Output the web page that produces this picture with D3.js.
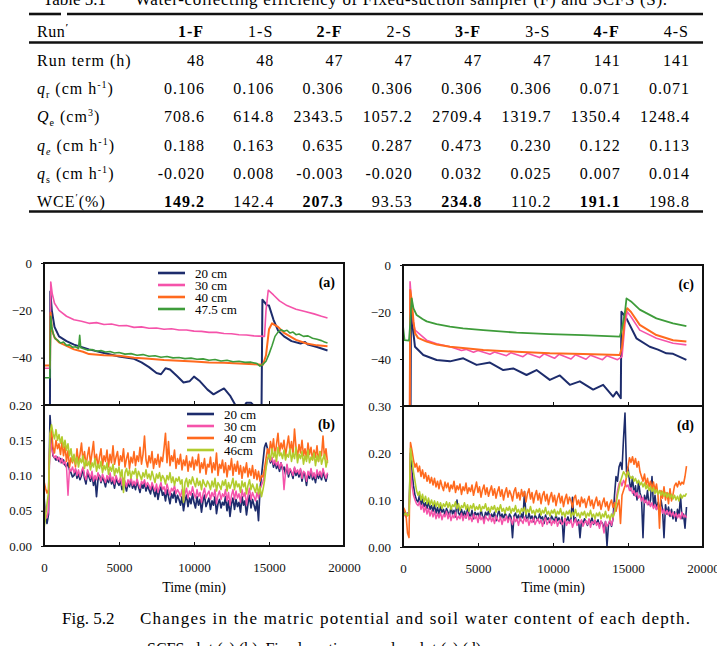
<!DOCTYPE html>
<html><head><meta charset="utf-8">
<script src="https://cdn.jsdelivr.net/npm/d3@7"></script>
<style>body{margin:0;background:#fff}svg{display:block}</style>
</head><body>
<svg id="c" width="717" height="646"></svg>
<script>
// ---------------- TABLE DATA ----------------
const tableTitleNo = "Table 5.1";
const tableTitle = "Water-collecting efficiency of Fixed-suction sampler (F) and SCFS (S).";
const tableRuns = ["1-F","1-S","2-F","2-S","3-F","3-S","4-F","4-S"];
const runTerm = ["48","48","47","47","47","47","141","141"];
const qrVals  = ["0.106","0.106","0.306","0.306","0.306","0.306","0.071","0.071"];
const QeVals  = ["708.6","614.8","2343.5","1057.2","2709.4","1319.7","1350.4","1248.4"];
const qeVals  = ["0.188","0.163","0.635","0.287","0.473","0.230","0.122","0.113"];
const qsVals  = ["-0.020","0.008","-0.003","-0.020","0.032","0.025","0.007","0.014"];
const wceVals = ["149.2","142.4","207.3","93.53","234.8","110.2","191.1","198.8"];

// ---------------- CHART DATA ----------------
const depthsA = ["20 cm","30 cm","40 cm","47.5 cm"];
const depthsB = ["20 cm","30 cm","40 cm","46cm"];
const xTicks = [0,5000,10000,15000,20000];
const potTicks = [0,-20,-40];
const wcTicksB = [0,0.05,0.10,0.15,0.20];
const wcTicksD = [0,0.10,0.20,0.30];

// (a) matric potential, SCFS  [time (min), potential]
const a20 = [[0,-75],[390,-75],[420,-12],[520,-20],[700,-27],[1000,-31],[1500,-33],[2000,-34.5],[3000,-36.5],[4000,-38],[5000,-39.5],[6000,-40.5],[6500,-42],[7000,-44],[7500,-46.5],[7800,-47],[8100,-44.5],[8400,-45],[8900,-48],[9300,-50.5],[9700,-50],[10000,-48],[10400,-50],[10900,-53.5],[11300,-55.5],[11700,-54],[12000,-53],[12400,-56],[12800,-60.5],[13200,-62],[13500,-59],[13800,-59],[14100,-61],[14500,-63],[14560,-15.5],[14700,-16.5],[14850,-17.8],[15000,-18],[15300,-24],[15600,-28.5],[16000,-31],[16500,-33],[17100,-34],[17400,-33.4],[17600,-34.5],[18200,-35.5],[18900,-37]];
const a30 = [[0,-44.5],[400,-44.5],[450,-8],[550,-13],[700,-17],[1000,-20],[1500,-22.5],[2000,-24],[2500,-24.6],[3000,-25.5],[3500,-25.2],[4000,-26],[4500,-25.8],[5000,-26.5],[5500,-26.4],[6000,-27.2],[6500,-27],[7000,-27.6],[7500,-27.5],[8000,-28],[8500,-27.8],[9000,-28.3],[9500,-28.3],[10000,-28.8],[10500,-28.9],[11000,-29.3],[11500,-29.3],[12000,-29.8],[12500,-29.9],[13000,-30.3],[13500,-30.4],[14000,-30.8],[14700,-31],[14800,-20],[14950,-11.5],[15300,-13.5],[15700,-16],[16200,-18],[16800,-19.5],[17400,-20.5],[18000,-21.5],[18500,-22.5],[18900,-23.2]];
const a40 = [[0,-43.3],[400,-43.3],[440,-21],[520,-28],[700,-31.5],[1000,-33.5],[1500,-35],[2000,-36.5],[2600,-37.5],[3000,-38.5],[4000,-39],[5000,-39.2],[6000,-40],[7000,-40.5],[8000,-41],[9000,-41.3],[10000,-41.6],[11000,-42],[12000,-42.2],[13000,-42.5],[14000,-42.8],[14600,-43],[14800,-39],[15000,-28],[15200,-25.5],[15600,-27],[16000,-29.5],[16800,-32.5],[17500,-34],[18200,-34.8],[18900,-35.2]];
const a47 = [[0,-48.5],[390,-48.5],[440,-22.5],[520,-27],[620,-30],[750,-32],[900,-32.6],[1100,-33.8],[1300,-33.4],[1500,-34.8],[1700,-34.6],[1900,-35.6],[2100,-35.4],[2300,-36.2],[2380,-30.6],[2450,-35.8],[2700,-36.3],[2900,-36.8],[3200,-36.6],[3500,-37.3],[3800,-37],[4100,-37.6],[4400,-37.4],[4700,-38],[5000,-37.8],[5400,-38.5],[5800,-38.3],[6200,-39],[6600,-38.7],[7000,-39.4],[7400,-39.2],[7800,-39.8],[8200,-39.5],[8600,-40.1],[9000,-39.9],[9400,-40.4],[9800,-40.2],[10200,-40.7],[10600,-40.5],[11000,-41.1],[11400,-40.8],[11800,-41.4],[12200,-41.1],[12600,-41.7],[13000,-41.5],[13400,-42],[13800,-41.9],[14200,-42.5],[14400,-43.6],[14600,-42.8],[14800,-41.5],[15000,-38.5],[15200,-35],[15400,-31],[15600,-29.2],[15800,-28.2],[16000,-28.8],[16200,-28.4],[16400,-29.6],[16600,-29.2],[16800,-30.3],[17000,-30],[17300,-31],[17600,-30.8],[17900,-31.8],[18200,-32.2],[18500,-32.8],[18700,-33.4],[18900,-33.8]];

// (c) matric potential, fixed-suction sampler
const c20 = [[0,-70],[500,-70],[533,-17.7],[620,-25],[800,-34.8],[1354,-38.3],[2242,-40.4],[3130,-41],[4018,-39.7],[4906,-42.5],[5794,-41.5],[6682,-44.7],[7348,-44],[8236,-46.8],[8902,-44.7],[9790,-48.9],[10456,-47],[11122,-51],[11788,-49.5],[12676,-53],[13342,-51],[14008,-56],[14230,-54],[14520,-56.7],[14563,-19.9],[14700,-21],[14896,-22.7],[15562,-31.2],[16450,-34.8],[17000,-36],[17560,-37.6],[18004,-37.8],[18892,-40.4]];
const c30 = [[0,-70],[440,-70],[470,-7.1],[550,-14],[700,-25],[800,-27.7],[1576,-32],[2242,-33.5],[3130,-34.8],[3500,-35.5],[3900,-36.4],[4200,-35.9],[4700,-37.1],[5000,-36.4],[5800,-38],[6100,-37],[6900,-38.6],[7200,-37.3],[8000,-39],[8300,-37.6],[9100,-39.4],[9400,-37.8],[10100,-39.7],[10400,-38],[11200,-40],[11500,-38.2],[12200,-40.1],[12500,-38.4],[13300,-40.3],[13600,-38.6],[14300,-40.3],[14600,-39],[14800,-25],[14950,-19.9],[15200,-22],[15784,-27.7],[16894,-31.2],[18004,-33.3],[18892,-34]];
const c40 = [[0,-70],[450,-70],[480,-10.6],[560,-14],[700,-24],[800,-29],[1000,-31],[1576,-32.6],[2242,-33.8],[3130,-34.8],[5350,-36.2],[7570,-36.9],[9790,-37.6],[12010,-37.9],[14452,-38.3],[14600,-35],[14800,-21],[14950,-18.4],[15200,-20],[15784,-25.5],[16894,-29.8],[18004,-32],[18892,-32.6]];
const c47 = [[0,-26],[100,-32],[400,-32.2],[480,-25],[577,-14.2],[700,-18.5],[910,-21.3],[1300,-23],[1576,-24],[2242,-25.2],[3130,-26.2],[4000,-27],[5350,-27.7],[7570,-28.8],[9790,-29.4],[12010,-29.8],[14452,-30.5],[14600,-27],[14800,-20],[14900,-14.2],[15200,-15.5],[15784,-19],[16894,-22.7],[18004,-24.8],[18892,-26]];

// (b) soil water content, SCFS (sampled every 100 min from 0)
const b20 = [0.070,0.040,0.032,0.045,0.185,0.150,0.128,0.125,0.122,0.126,
0.120,0.124,0.118,0.122,0.115,0.112,0.118,0.108,0.104,0.098,
0.100,0.108,0.096,0.102,0.094,0.100,0.110,0.096,0.088,0.104,
0.098,0.092,0.102,0.086,0.096,0.070,0.094,0.100,0.090,0.098,
0.092,0.084,0.096,0.090,0.100,0.088,0.094,0.082,0.096,0.090,
0.086,0.094,0.080,0.092,0.088,0.078,0.090,0.084,0.094,0.082,
0.088,0.080,0.092,0.084,0.076,0.088,0.082,0.090,0.078,0.086,
0.080,0.074,0.086,0.078,0.070,0.082,0.066,0.078,0.084,0.072,
0.076,0.064,0.080,0.070,0.060,0.074,0.068,0.078,0.062,0.072,
0.066,0.058,0.070,0.050,0.064,0.072,0.056,0.068,0.060,0.074,
0.062,0.054,0.070,0.058,0.066,0.048,0.064,0.072,0.056,0.062,
0.068,0.052,0.064,0.058,0.070,0.046,0.060,0.066,0.054,0.062,
0.058,0.070,0.050,0.064,0.042,0.060,0.068,0.052,0.066,0.056,
0.062,0.048,0.070,0.058,0.064,0.044,0.060,0.072,0.054,0.066,
0.058,0.050,0.064,0.036,0.080,0.100,0.120,0.140,0.146,0.138,
0.126,0.118,0.124,0.112,0.120,0.110,0.116,0.106,0.118,0.108,
0.112,0.102,0.114,0.098,0.108,0.104,0.096,0.110,0.100,0.106,
0.098,0.108,0.092,0.104,0.100,0.086,0.102,0.096,0.108,0.094,
0.100,0.090,0.104,0.096,0.102,0.094,0.106,0.098,0.092,0.102];
const b30 = [0.060,0.045,0.040,0.050,0.160,0.140,0.130,0.125,0.128,0.122,
0.126,0.118,0.124,0.116,0.120,0.112,0.072,0.110,0.106,0.112,
0.104,0.110,0.100,0.108,0.098,0.106,0.112,0.100,0.094,0.108,
0.102,0.096,0.106,0.092,0.100,0.094,0.104,0.098,0.092,0.102,
0.096,0.090,0.100,0.094,0.104,0.092,0.098,0.088,0.100,0.094,
0.090,0.098,0.086,0.096,0.092,0.084,0.094,0.088,0.098,0.086,
0.092,0.086,0.096,0.088,0.082,0.092,0.088,0.094,0.084,0.090,
0.086,0.080,0.090,0.084,0.078,0.088,0.076,0.084,0.090,0.080,
0.084,0.074,0.088,0.080,0.072,0.082,0.078,0.086,0.074,0.080,
0.076,0.070,0.080,0.064,0.074,0.082,0.068,0.078,0.072,0.084,
0.074,0.068,0.080,0.070,0.076,0.062,0.074,0.082,0.068,0.074,
0.078,0.066,0.076,0.070,0.080,0.060,0.072,0.078,0.066,0.074,
0.070,0.080,0.064,0.076,0.058,0.072,0.080,0.066,0.078,0.068,
0.074,0.062,0.080,0.070,0.076,0.058,0.072,0.082,0.066,0.076,
0.070,0.064,0.076,0.068,0.080,0.086,0.092,0.100,0.112,0.124,
0.128,0.120,0.126,0.116,0.122,0.114,0.120,0.110,0.118,0.112,
0.080,0.104,0.116,0.102,0.110,0.106,0.100,0.112,0.104,0.108,
0.102,0.110,0.096,0.106,0.104,0.092,0.106,0.100,0.110,0.098,
0.104,0.096,0.108,0.100,0.106,0.098,0.110,0.102,0.096,0.104];
const b40 = [0.092,0.082,0.075,0.080,0.150,0.165,0.140,0.132,0.150,0.138,
0.145,0.130,0.148,0.128,0.142,0.120,0.135,0.112,0.125,0.118,
0.128,0.112,0.138,0.118,0.130,0.146,0.120,0.134,0.114,0.128,
0.140,0.116,0.132,0.148,0.118,0.130,0.112,0.126,0.138,0.114,
0.128,0.120,0.136,0.112,0.130,0.118,0.142,0.116,0.126,0.134,
0.114,0.128,0.120,0.138,0.112,0.124,0.132,0.110,0.126,0.118,
0.134,0.114,0.128,0.120,0.140,0.116,0.130,0.156,0.122,0.112,
0.128,0.118,0.134,0.110,0.124,0.116,0.130,0.112,0.126,0.120,
0.138,0.160,0.118,0.148,0.114,0.128,0.120,0.136,0.110,0.124,
0.116,0.130,0.108,0.122,0.114,0.128,0.106,0.120,0.112,0.126,
0.108,0.122,0.114,0.130,0.104,0.118,0.110,0.124,0.102,0.116,
0.112,0.126,0.104,0.118,0.108,0.132,0.100,0.116,0.110,0.122,
0.104,0.118,0.098,0.114,0.108,0.124,0.100,0.116,0.106,0.120,
0.102,0.114,0.096,0.112,0.104,0.118,0.098,0.110,0.100,0.114,
0.096,0.108,0.094,0.106,0.092,0.100,0.098,0.110,0.124,0.138,
0.130,0.148,0.136,0.152,0.128,0.144,0.160,0.132,0.146,0.138,
0.150,0.128,0.142,0.156,0.134,0.148,0.130,0.166,0.140,0.126,
0.144,0.132,0.150,0.128,0.138,0.124,0.146,0.130,0.140,0.122,
0.136,0.126,0.142,0.120,0.134,0.128,0.156,0.124,0.138,0.118];
const b46 = [0.025,0.040,0.060,0.075,0.160,0.172,0.160,0.152,0.165,0.150,
0.158,0.146,0.155,0.140,0.150,0.136,0.145,0.128,0.138,0.120,
0.130,0.116,0.126,0.112,0.124,0.118,0.128,0.110,0.122,0.114,
0.120,0.108,0.118,0.112,0.124,0.106,0.116,0.110,0.120,0.104,
0.114,0.108,0.118,0.102,0.112,0.106,0.116,0.100,0.110,0.104,
0.112,0.098,0.108,0.076,0.104,0.110,0.100,0.108,0.096,0.106,
0.102,0.110,0.096,0.106,0.100,0.094,0.104,0.098,0.108,0.096,
0.102,0.094,0.106,0.098,0.090,0.102,0.096,0.104,0.092,0.100,
0.096,0.088,0.100,0.094,0.104,0.090,0.098,0.086,0.096,0.092,
0.098,0.088,0.094,0.062,0.090,0.096,0.084,0.094,0.088,0.098,
0.090,0.084,0.096,0.086,0.092,0.080,0.094,0.088,0.084,0.092,
0.088,0.080,0.092,0.084,0.096,0.078,0.090,0.086,0.080,0.092,
0.086,0.094,0.078,0.090,0.082,0.088,0.096,0.080,0.092,0.084,
0.088,0.076,0.092,0.084,0.090,0.074,0.086,0.094,0.080,0.088,
0.082,0.076,0.088,0.074,0.084,0.070,0.080,0.092,0.110,0.124,
0.130,0.122,0.138,0.126,0.134,0.120,0.140,0.128,0.132,0.124,
0.136,0.122,0.130,0.126,0.138,0.120,0.132,0.124,0.140,0.118,
0.130,0.124,0.134,0.116,0.128,0.120,0.136,0.118,0.126,0.122,
0.132,0.114,0.128,0.120,0.134,0.116,0.124,0.130,0.112,0.122];

// (d) soil water content, fixed-suction sampler (every 100 min from 0)
const d20 = [0.080,0.070,0.065,0.072,0.068,0.200,0.160,0.130,0.110,0.100,
0.096,0.110,0.090,0.102,0.086,0.094,0.082,0.098,0.080,0.088,
0.076,0.090,0.072,0.084,0.070,0.086,0.074,0.080,0.068,0.082,
0.074,0.066,0.086,0.070,0.078,0.064,0.100,0.072,0.068,0.080,
0.066,0.076,0.062,0.082,0.070,0.064,0.078,0.060,0.074,0.068,
0.072,0.062,0.080,0.066,0.058,0.074,0.068,0.076,0.060,0.070,
0.064,0.074,0.056,0.068,0.078,0.062,0.070,0.060,0.072,0.066,
0.058,0.070,0.064,0.020,0.066,0.072,0.060,0.068,0.056,0.070,
0.062,0.118,0.064,0.058,0.072,0.060,0.066,0.054,0.068,0.062,
0.056,0.070,0.060,0.064,0.050,0.068,0.058,0.062,0.052,0.066,
0.060,0.054,0.068,0.056,0.062,0.050,0.064,0.010,0.060,0.056,
0.064,0.052,0.060,0.106,0.054,0.062,0.048,0.058,0.020,0.056,
0.050,0.060,0.054,0.046,0.058,0.052,0.062,0.048,0.056,0.050,
0.058,0.044,0.054,0.050,0.040,0.054,0.002,0.048,0.056,0.044,
0.060,0.110,0.150,0.140,0.170,0.180,0.165,0.230,0.285,0.160,
0.170,0.140,0.120,0.150,0.110,0.130,0.100,0.140,0.115,0.105,
0.020,0.110,0.095,0.120,0.090,0.100,0.150,0.085,0.110,0.080,
0.095,0.075,0.100,0.080,0.020,0.090,0.070,0.085,0.065,0.080,
0.060,0.075,0.055,0.080,0.065,0.110,0.060,0.070,0.040,0.085];
const d30 = [0.070,0.068,0.064,0.072,0.070,0.170,0.130,0.110,0.100,0.092,
0.088,0.096,0.080,0.090,0.074,0.086,0.070,0.082,0.066,0.078,
0.064,0.076,0.060,0.072,0.062,0.074,0.058,0.070,0.064,0.076,
0.060,0.072,0.056,0.068,0.062,0.074,0.058,0.066,0.060,0.072,
0.056,0.068,0.062,0.074,0.058,0.064,0.054,0.070,0.060,0.066,
0.052,0.068,0.058,0.064,0.050,0.066,0.060,0.056,0.068,0.054,
0.062,0.050,0.066,0.058,0.054,0.064,0.048,0.060,0.056,0.066,
0.052,0.062,0.058,0.048,0.064,0.054,0.060,0.046,0.062,0.056,
0.050,0.064,0.054,0.060,0.046,0.058,0.052,0.062,0.048,0.056,
0.060,0.050,0.058,0.044,0.056,0.062,0.048,0.054,0.060,0.046,
0.056,0.050,0.060,0.044,0.054,0.058,0.048,0.052,0.062,0.046,
0.054,0.050,0.058,0.042,0.052,0.060,0.046,0.054,0.050,0.058,
0.044,0.052,0.056,0.048,0.060,0.042,0.054,0.050,0.058,0.046,
0.052,0.040,0.056,0.048,0.030,0.054,0.044,0.050,0.058,0.046,
0.060,0.080,0.100,0.120,0.135,0.140,0.130,0.142,0.136,0.128,
0.132,0.120,0.126,0.114,0.120,0.108,0.116,0.104,0.110,0.098,
0.106,0.094,0.100,0.090,0.098,0.086,0.094,0.082,0.090,0.080,
0.088,0.076,0.084,0.072,0.080,0.070,0.078,0.068,0.076,0.066,
0.074,0.064,0.072,0.062,0.070,0.060,0.074,0.064,0.068,0.062];
const d40 = [0.085,0.080,0.070,0.030,0.020,0.222,0.205,0.185,0.170,0.178,
0.160,0.172,0.150,0.164,0.146,0.158,0.140,0.152,0.136,0.148,
0.132,0.146,0.128,0.140,0.124,0.142,0.130,0.120,0.138,0.126,
0.136,0.118,0.132,0.124,0.140,0.116,0.130,0.122,0.134,0.112,
0.128,0.120,0.136,0.114,0.126,0.118,0.132,0.110,0.124,0.138,
0.116,0.128,0.106,0.122,0.132,0.112,0.126,0.108,0.120,0.130,
0.110,0.124,0.104,0.118,0.128,0.108,0.122,0.100,0.116,0.126,
0.106,0.120,0.112,0.098,0.118,0.126,0.104,0.116,0.100,0.122,
0.108,0.118,0.096,0.114,0.124,0.102,0.116,0.094,0.110,0.120,
0.100,0.114,0.092,0.110,0.118,0.098,0.112,0.090,0.106,0.116,
0.096,0.110,0.088,0.104,0.114,0.094,0.108,0.086,0.102,0.112,
0.092,0.106,0.098,0.084,0.104,0.110,0.090,0.100,0.086,0.106,
0.094,0.102,0.084,0.098,0.108,0.088,0.100,0.082,0.096,0.106,
0.088,0.098,0.080,0.094,0.104,0.086,0.096,0.078,0.092,0.100,
0.084,0.094,0.076,0.090,0.100,0.050,0.110,0.120,0.130,0.150,
0.170,0.190,0.180,0.192,0.176,0.188,0.170,0.182,0.160,0.150,
0.140,0.155,0.132,0.146,0.128,0.140,0.124,0.138,0.120,0.134,
0.110,0.040,0.120,0.104,0.128,0.100,0.116,0.092,0.124,0.098,
0.112,0.130,0.136,0.128,0.140,0.132,0.138,0.134,0.150,0.172];
const d46 = [0.075,0.068,0.072,0.066,0.070,0.210,0.185,0.160,0.140,0.120,
0.110,0.118,0.100,0.112,0.096,0.108,0.092,0.104,0.090,0.100,
0.088,0.098,0.086,0.096,0.084,0.094,0.082,0.092,0.086,0.096,
0.084,0.094,0.080,0.090,0.086,0.096,0.082,0.092,0.078,0.088,
0.084,0.094,0.080,0.090,0.076,0.088,0.082,0.092,0.078,0.086,
0.080,0.090,0.076,0.086,0.082,0.092,0.078,0.084,0.074,0.086,
0.080,0.088,0.074,0.084,0.078,0.090,0.076,0.082,0.072,0.084,
0.078,0.086,0.072,0.082,0.076,0.088,0.074,0.080,0.070,0.082,
0.076,0.084,0.070,0.080,0.074,0.086,0.072,0.078,0.068,0.080,
0.074,0.082,0.068,0.078,0.072,0.084,0.070,0.076,0.066,0.078,
0.072,0.080,0.066,0.076,0.070,0.082,0.068,0.074,0.064,0.076,
0.070,0.078,0.064,0.074,0.068,0.080,0.066,0.072,0.062,0.074,
0.068,0.076,0.062,0.072,0.066,0.078,0.064,0.070,0.060,0.072,
0.066,0.074,0.060,0.070,0.064,0.076,0.062,0.068,0.058,0.070,
0.064,0.072,0.090,0.110,0.125,0.140,0.150,0.160,0.155,0.148,
0.160,0.152,0.146,0.150,0.140,0.146,0.136,0.142,0.132,0.138,
0.128,0.136,0.124,0.132,0.120,0.128,0.118,0.126,0.114,0.122,
0.112,0.120,0.110,0.118,0.108,0.116,0.106,0.114,0.104,0.112,
0.102,0.110,0.100,0.108,0.098,0.112,0.104,0.110,0.108,0.114];

// ---------------- DRAWING ----------------
const serif = "'Liberation Serif','Times New Roman',Times,serif";
const svg = d3.select("#c").attr("font-family", serif).style("font-family", serif);
const colNavy = "#1d2c6c", colPink = "#f553aa", colOrange = "#ff6a1e", colGreen = "#3e9c3a", colYellow = "#b2cc2e";

// ---- Table ----
svg.append("text").attr("x", 43).attr("y", 5).attr("font-size", 17).text(tableTitleNo);
svg.append("text").attr("x", 135).attr("y", 5).attr("font-size", 17)
  .attr("textLength", 532).attr("lengthAdjust", "spacing").text(tableTitle);

const rule = (x1, x2, y, w) => svg.append("line").attr("x1", x1).attr("x2", x2).attr("y1", y).attr("y2", y)
  .attr("stroke", "#111").attr("stroke-width", w);
rule(29, 61, 14, 2.6); rule(67, 703, 14, 2.6);
rule(29, 703, 42.5, 2.6);
rule(29, 703, 211.5, 2.6);

const colX = d3.scalePoint().domain(tableRuns).range([204, 689]);
const rowY = d3.scaleLinear().domain([0, 5]).range([66, 207]);
const tfont = 16;

function rich(textSel, parts) {
  let shift = 0;
  parts.forEach(p => {
    const ts = textSel.append("tspan").text(p.t);
    const target = p.sub ? 4 : p.sup ? -6 : 0;
    ts.attr("dy", target - shift); shift = target;
    if (p.sub || p.sup) ts.attr("font-size", 10);
    if (p.it) ts.attr("font-style", "italic");
    if (p.b) ts.attr("font-weight", "bold");
  });
}
// header
const hdr = svg.append("text").attr("x", 37).attr("y", 37).attr("font-size", tfont).attr("letter-spacing", 0.6);
rich(hdr, [{t: "Run"}, {t: "\u2032", sup: 1, b: 1}]);
tableRuns.forEach(r => {
  svg.append("text").attr("x", colX(r)).attr("y", 37).attr("text-anchor", "end")
    .attr("font-size", tfont).attr("letter-spacing", 1)
    .attr("font-weight", r.endsWith("F") ? "bold" : "normal").text(r);
});
const rowLabels = [
  [{t: "Run term (h)"}],
  [{t: "q", it: 1}, {t: "r", sub: 1}, {t: " (cm h"}, {t: "-1", sup: 1}, {t: ")"}],
  [{t: "Q", it: 1}, {t: "e", sub: 1}, {t: " (cm"}, {t: "3", sup: 1}, {t: ")"}],
  [{t: "q", it: 1}, {t: "e", sub: 1, it: 1}, {t: " (cm h"}, {t: "-1", sup: 1}, {t: ")"}],
  [{t: "q", it: 1}, {t: "s", sub: 1}, {t: " (cm h"}, {t: "-1", sup: 1}, {t: ")"}],
  [{t: "WCE"}, {t: "\u2032", sup: 1}, {t: "(%)"}]
];
const rowVals = [runTerm, qrVals, QeVals, qeVals, qsVals, wceVals];
rowLabels.forEach((parts, i) => {
  const t = svg.append("text").attr("x", 37).attr("y", rowY(i)).attr("font-size", tfont).attr("letter-spacing", 1);
  rich(t, parts);
  rowVals[i].forEach((v, j) => {
    svg.append("text").attr("x", colX(tableRuns[j]) + 1).attr("y", rowY(i)).attr("text-anchor", "end")
      .attr("font-size", tfont).attr("letter-spacing", 1)
      .attr("font-weight", (i === 5 && tableRuns[j].endsWith("F")) ? "bold" : "normal").text(v);
  });
});

// ---- Charts ----
const sampleTimes = d3.range(0, 19000, 100);
const zipT = vals => vals.map((v, i) => [sampleTimes[i], v]);

function panel(cfg) {
  const x = d3.scaleLinear().domain([0, 20000]).range([cfg.x0, cfg.x1]);
  const y = d3.scaleLinear().domain(cfg.ydom).range([cfg.y1, cfg.y0]);
  const id = "clip" + cfg.name;
  svg.append("clipPath").attr("id", id).append("rect")
    .attr("x", cfg.x0).attr("y", cfg.y0).attr("width", cfg.x1 - cfg.x0).attr("height", cfg.y1 - cfg.y0);
  const g = svg.append("g").attr("clip-path", `url(#${id})`);
  const line = d3.line().x(d => x(d[0])).y(d => y(d[1]));
  cfg.series.forEach(s => {
    g.append("path").datum(s.data).attr("d", line).attr("fill", "none")
      .attr("stroke", s.color).attr("stroke-width", s.w).attr("stroke-linejoin", "round");
  });
  // y axis
  const ya = svg.append("g").attr("transform", `translate(${cfg.x0},0)`)
    .call(d3.axisLeft(y).tickValues(cfg.yticks).tickSize(3).tickPadding(9).tickFormat(cfg.yfmt));
  ya.attr("font-family", serif);
  ya.select(".domain").remove();
  ya.selectAll("text").attr("font-family", serif).attr("font-size", 13).attr("fill", "#111");
  ya.selectAll("line").attr("stroke", "#111");
  // x axis (inward ticks)
  const xa = svg.append("g").attr("transform", `translate(0,${cfg.y1})`)
    .call(d3.axisBottom(x).tickValues(xTicks).tickSizeInner(-4).tickSizeOuter(0).tickPadding(17)
      .tickFormat(cfg.xlabels ? d3.format("d") : () => ""));
  xa.attr("font-family", serif);
  xa.select(".domain").remove();
  xa.selectAll("text").attr("font-family", serif).attr("font-size", 13).attr("fill", "#111");
  xa.selectAll("line").attr("stroke", "#111");
  // frame
  svg.append("rect").attr("x", cfg.x0).attr("y", cfg.y0).attr("width", cfg.x1 - cfg.x0).attr("height", cfg.y1 - cfg.y0)
    .attr("fill", "none").attr("stroke", "#111").attr("stroke-width", 2);
  // panel tag
  svg.append("text").attr("x", cfg.x1 - 9).attr("y", cfg.y0 + 24).attr("text-anchor", "end")
    .attr("font-size", 14).attr("font-weight", "bold").text(cfg.tag);
  // legend
  if (cfg.legend) {
    cfg.legend.names.forEach((n, i) => {
      const ly = cfg.legend.y + i * 12;
      svg.append("line").attr("x1", cfg.legend.x).attr("x2", cfg.legend.x + 27).attr("y1", ly).attr("y2", ly)
        .attr("stroke", cfg.series[i].color).attr("stroke-width", 2.6);
      svg.append("text").attr("x", cfg.legend.x + 37).attr("y", ly + 4.5).attr("font-size", 13).text(n);
    });
  }
  return {x, y};
}

const fmtPot = d3.format("d");
const fmtWc = d3.format(".2f");

panel({name: "a", x0: 44, x1: 344, y0: 263, y1: 405, ydom: [-60, 0], yticks: potTicks, yfmt: fmtPot, tag: "(a)",
  series: [{data: a20, color: colNavy, w: 2}, {data: a30, color: colPink, w: 1.6}, {data: a40, color: colOrange, w: 2}, {data: a47, color: colGreen, w: 1.6}],
  legend: {names: depthsA, x: 158, y: 273}});
panel({name: "b", x0: 44, x1: 344, y0: 405, y1: 546, ydom: [0, 0.20], yticks: wcTicksB, yfmt: fmtWc, tag: "(b)", xlabels: true,
  series: [{data: zipT(b20), color: colNavy, w: 1.7}, {data: zipT(b30), color: colPink, w: 1.5}, {data: zipT(b40), color: colOrange, w: 1.6}, {data: zipT(b46), color: colYellow, w: 1.6}],
  legend: {names: depthsB, x: 187, y: 414}});
panel({name: "c", x0: 403, x1: 703, y0: 265, y1: 406, ydom: [-60, 0], yticks: potTicks, yfmt: fmtPot, tag: "(c)",
  series: [{data: c20, color: colNavy, w: 2}, {data: c30, color: colPink, w: 1.6}, {data: c40, color: colOrange, w: 2}, {data: c47, color: colGreen, w: 1.8}]});
panel({name: "d", x0: 403, x1: 703, y0: 406, y1: 547, ydom: [0, 0.30], yticks: wcTicksD, yfmt: fmtWc, tag: "(d)", xlabels: true,
  series: [{data: zipT(d20), color: colNavy, w: 1.6}, {data: zipT(d30), color: colPink, w: 1.5}, {data: zipT(d40), color: colOrange, w: 1.6}, {data: zipT(d46), color: colYellow, w: 1.6}]});

// axis titles
svg.append("text").attr("x", 194).attr("y", 592).attr("text-anchor", "middle").attr("font-size", 14).text("Time (min)");
svg.append("text").attr("x", 553).attr("y", 592).attr("text-anchor", "middle").attr("font-size", 14).text("Time (min)");

// caption
svg.append("text").attr("x", 62).attr("y", 624).attr("font-size", 17).text("Fig. 5.2");
svg.append("text").attr("x", 140).attr("y", 624).attr("font-size", 17).attr("textLength", 550).attr("lengthAdjust", "spacing")
  .text("Changes in the matric potential and soil water content of each depth.");
svg.append("text").attr("x", 147).attr("y", 654).attr("font-size", 16).attr("textLength", 338).attr("lengthAdjust", "spacing")
  .text("SCFS plot (a) (b), Fixed-suction sampler plot (c) (d).");
</script>
</body></html>
